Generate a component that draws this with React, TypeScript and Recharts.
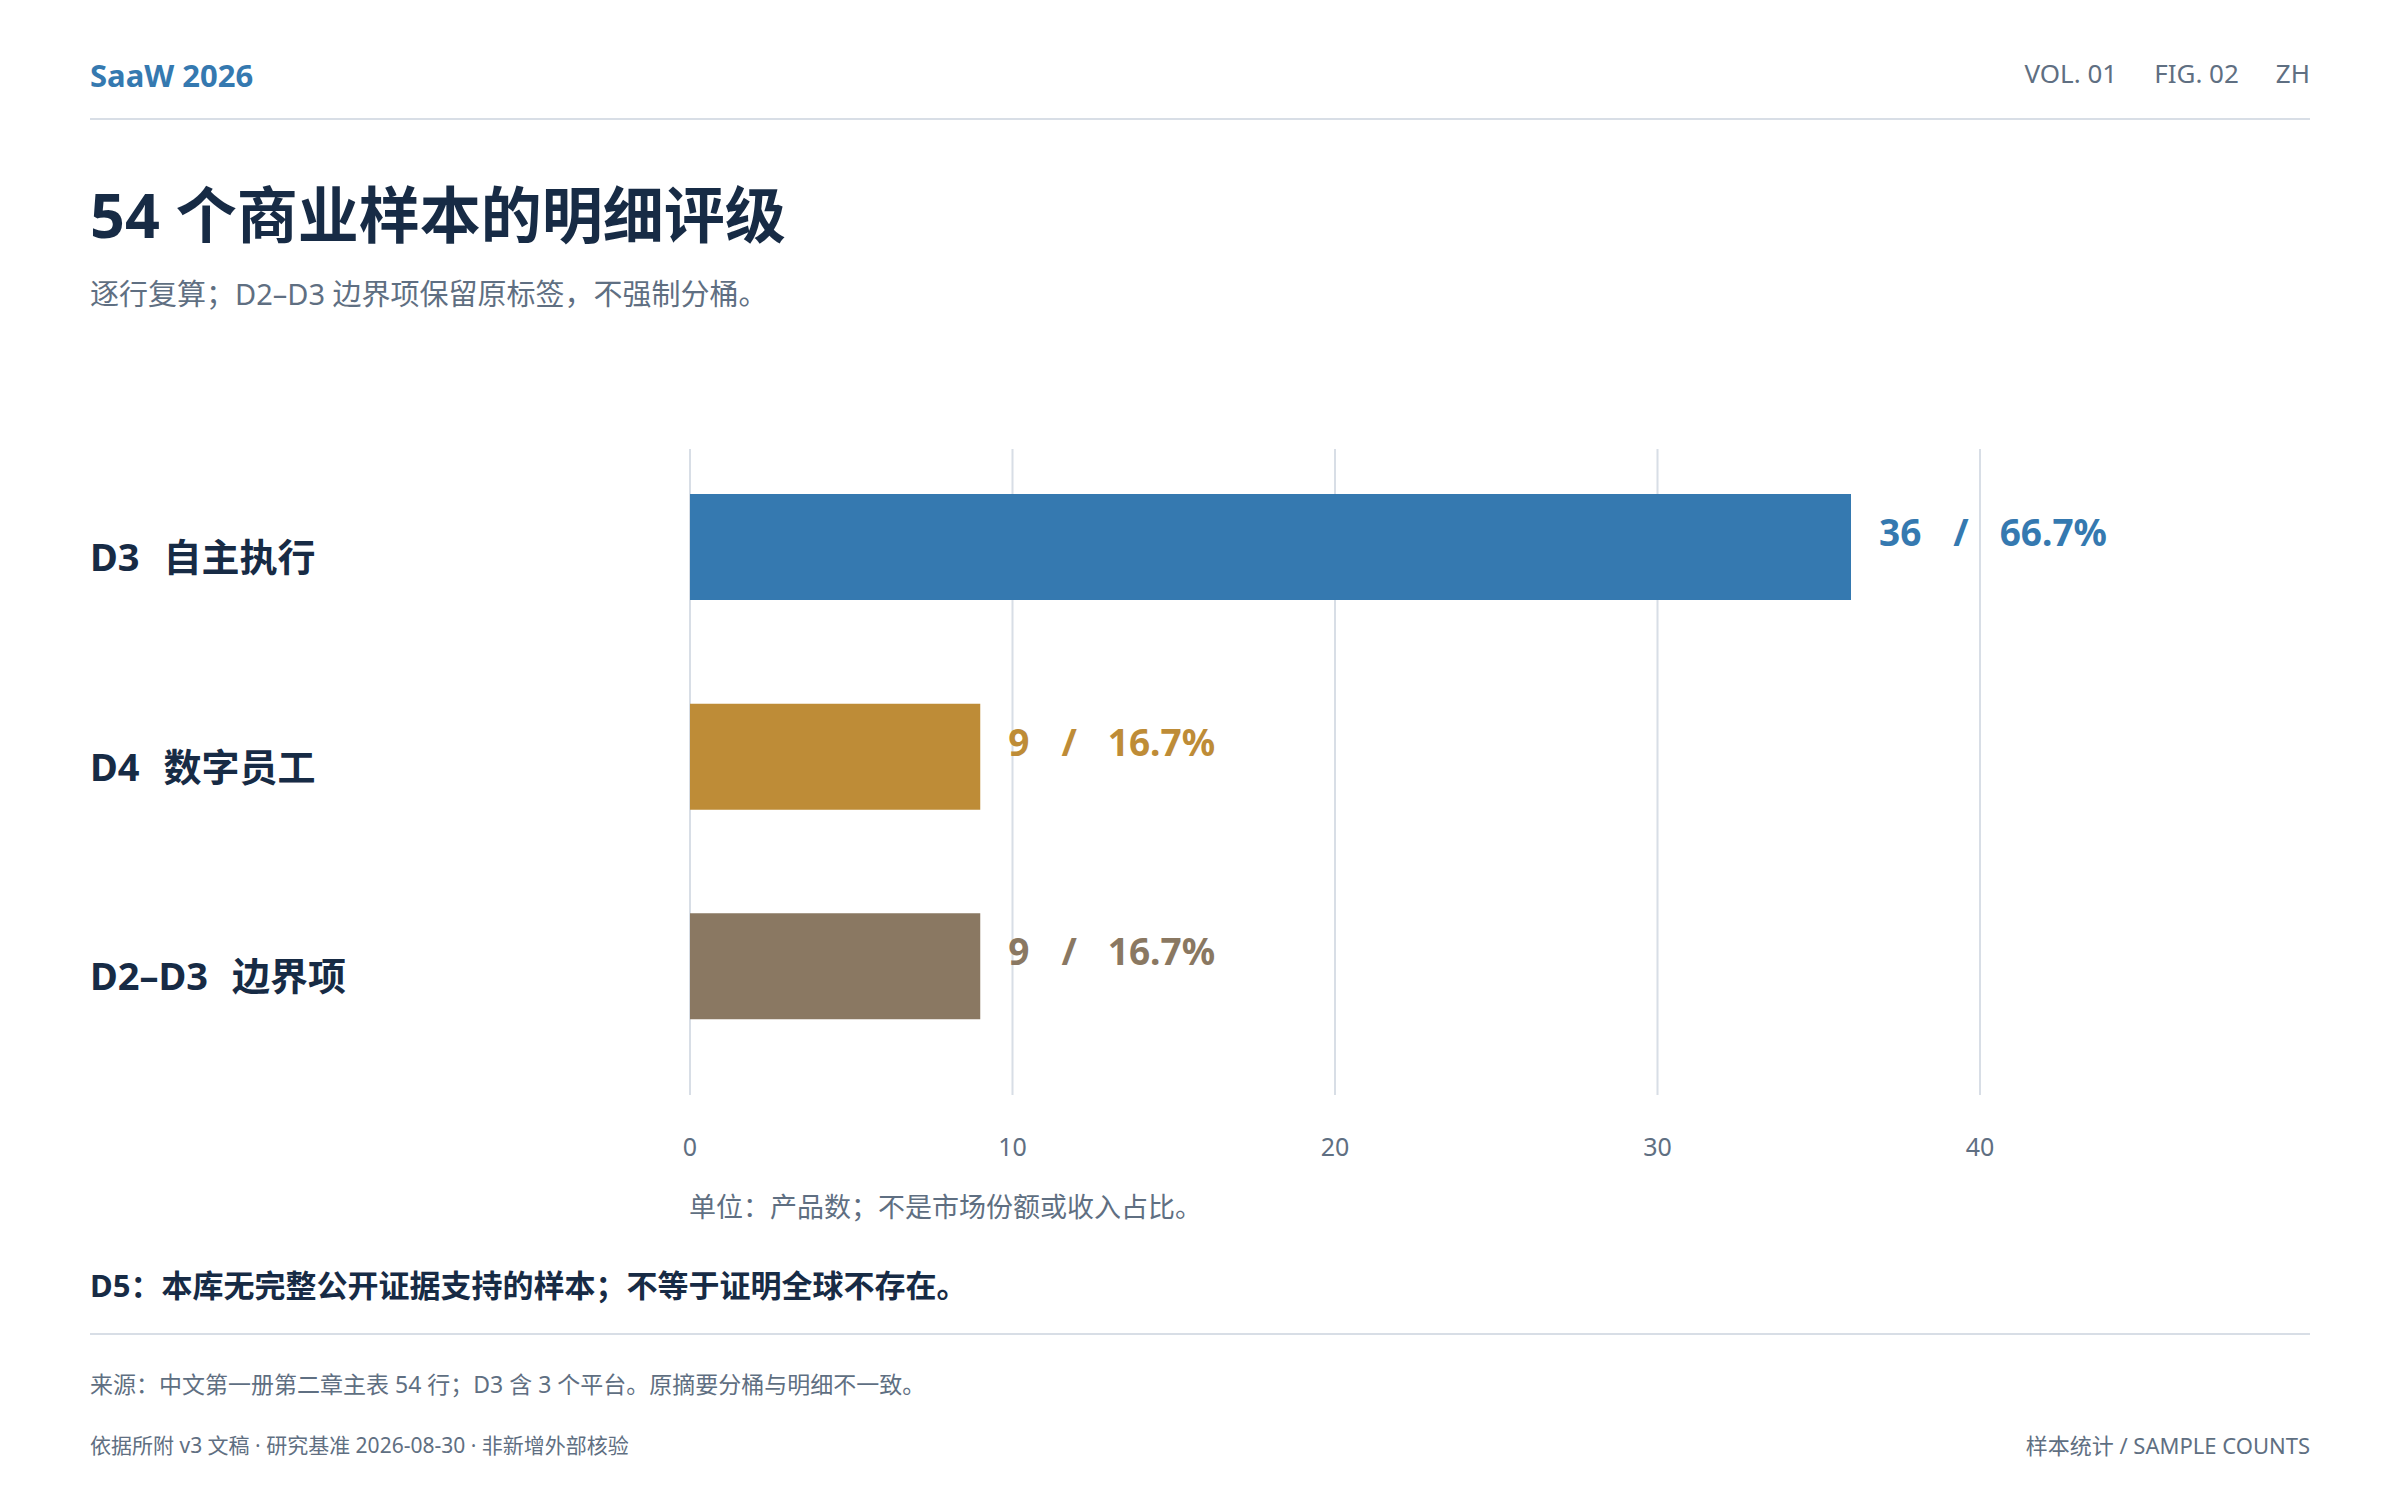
import { BarChart, Bar, XAxis, YAxis, CartesianGrid, Cell, LabelList } from 'recharts'

const CODES = ['D3', 'D4', 'D2–D3']
const NAMES = ['自主执行', '数字员工', '边界项']
const COUNTS = [36, 9, 9]
const SHARES = [66.7, 16.7, 16.7]
const X_TICKS = [0, 10, 20, 30, 40]

const BAR_COLOURS = ['#3579b0', '#be8c37', '#8a7862']
const NAVY = '#172b45'
const MUTED = '#5f6f82'
const RULE = '#d8dee6'
const FONT = "'Noto Sans', 'Noto Sans CJK SC', sans-serif"

const LABEL_X = 90

const data = CODES.map((code, i) => ({ code, name: NAMES[i], count: COUNTS[i], share: SHARES[i] }))

function CategoryTick({ y, index }: { y?: number; index?: number }) {
  const i = index ?? 0
  return (
    <text x={LABEL_X} y={(y ?? 0) + 24} fill={NAVY} fontSize={38} fontWeight={700} fontFamily={FONT}>
      <tspan>{CODES[i]}</tspan>
      <tspan dx={24}>{NAMES[i]}</tspan>
    </text>
  )
}

function ValueTick({ x, y, payload }: { x?: number; y?: number; payload?: { value: number } }) {
  return (
    <text x={x} y={(y ?? 0) + 85} textAnchor="middle" fill={MUTED} fontSize={25} fontFamily={FONT}>
      {payload?.value}
    </text>
  )
}

function ValueLabel(props: { x?: number; y?: number; width?: number; height?: number; index?: number }) {
  const { x = 0, y = 0, width = 0, height = 0, index = 0 } = props
  const colour = BAR_COLOURS[index]
  return (
    <text x={x + width + 28} y={y + height / 2 - 1} fill={colour} fontSize={37} fontWeight={700} fontFamily={FONT}>
      <tspan>{COUNTS[index]}</tspan>
      <tspan dx={32}>/</tspan>
      <tspan dx={31}>{SHARES[index].toFixed(1)}%</tspan>
    </text>
  )
}

// text block positioned by its baseline
function Line({ top, left, right, size, colour, weight = 400, children }: { top: number; left?: number; right?: number; size: number; colour: string; weight?: number; children: React.ReactNode }) {
  return (
    <div
      style={{
        position: 'absolute',
        top: top - size * 0.9,
        left,
        right,
        fontSize: size,
        lineHeight: `${size}px`,
        color: colour,
        fontWeight: weight,
        whiteSpace: 'nowrap',
      }}
    >
      {children}
    </div>
  )
}

export default function App() {
  return (
    <div style={{ position: 'relative', width: 2400, height: 1500, background: '#fff', fontFamily: FONT }}>
      <style>{'body{margin:0}'}</style>

      {/* masthead */}
      <Line top={88} left={90} size={31} colour={BAR_COLOURS[0]} weight={700}>SaaW 2026</Line>
      <Line top={83} right={90} size={26} colour={MUTED}>
        <span>VOL. 01</span>
        <span style={{ marginLeft: 37 }}>FIG. 02</span>
        <span style={{ marginLeft: 37 }}>ZH</span>
      </Line>
      <div style={{ position: 'absolute', top: 118, left: 90, width: 2220, height: 2, background: RULE }} />

      <Line top={239} left={90} size={61} colour={NAVY} weight={700}>54 个商业样本的明细评级</Line>
      <Line top={305} left={90} size={29} colour={MUTED}>逐行复算；D2–D3 边界项保留原标签，不强制分桶。</Line>

      {/* chart */}
      <div style={{ position: 'absolute', top: 0, left: 0 }}>
        <BarChart
          width={2400}
          height={1180}
          data={data}
          layout="vertical"
          margin={{ top: 442, right: 420, bottom: 0, left: 0 }}
        >
          <CartesianGrid horizontal={false} stroke={RULE} strokeWidth={2} y={449} height={646} />
          <XAxis
            type="number"
            domain={[0, 40]}
            ticks={X_TICKS}
            axisLine={false}
            tickLine={false}
            tickSize={0}
            tickMargin={0}
            height={109}
            tick={<ValueTick />}
            interval={0}
          />
          <YAxis
            type="category"
            dataKey="code"
            width={690}
            axisLine={false}
            tickLine={false}
            tick={<CategoryTick />}
            interval={0}
          />
          <Bar dataKey="count" barSize={106} isAnimationActive={false}>
            {data.map((d, i) => (
              <Cell key={d.code} fill={BAR_COLOURS[i]} />
            ))}
            <LabelList dataKey="count" content={<ValueLabel />} />
          </Bar>
        </BarChart>
      </div>

      <Line top={1217} left={689} size={27} colour={MUTED}>单位：产品数；不是市场份额或收入占比。</Line>
      <Line top={1298} left={90} size={31} colour={NAVY} weight={700}>D5：本库无完整公开证据支持的样本；不等于证明全球不存在。</Line>

      {/* footer */}
      <div style={{ position: 'absolute', top: 1333, left: 90, width: 2220, height: 2, background: RULE }} />
      <Line top={1394} left={90} size={23} colour={MUTED}>来源：中文第一册第二章主表 54 行；D3 含 3 个平台。原摘要分桶与明细不一致。</Line>
      <Line top={1454} left={90} size={21} colour={MUTED}>依据所附 v3 文稿 · 研究基准 2026-08-30 · 非新增外部核验</Line>
      <Line top={1454} right={90} size={22} colour={MUTED}>样本统计 / SAMPLE COUNTS</Line>
    </div>
  )
}
